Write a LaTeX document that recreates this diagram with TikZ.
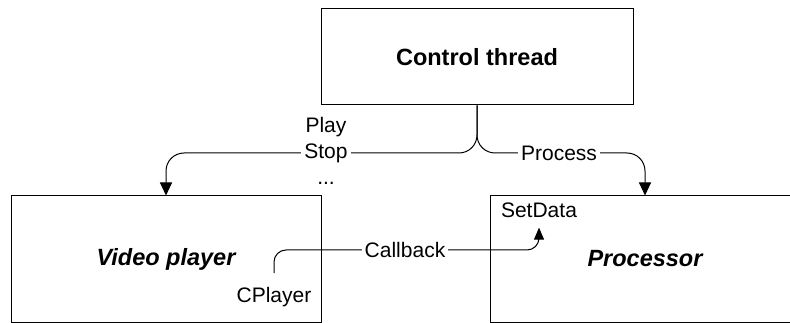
\documentclass[tikz,border=0pt]{standalone}
\usepackage{fontspec}
\setmainfont{Liberation Sans}
\usetikzlibrary{arrows.meta,calc}
\tikzset{
  box/.style={draw=black, line width=1pt, rectangle, minimum width=310pt, minimum height=126pt, inner sep=0pt},
  titlebold/.style={font=\fontsize{23.5}{28}\selectfont\bfseries},
  titleital/.style={font=\fontsize{23.5}{28}\selectfont\bfseries\itshape},
  lbl/.style={font=\fontsize{21}{26}\selectfont, inner sep=3pt},
  lblw/.style={lbl, fill=white},
  conn/.style={draw=black, line width=1pt, rounded corners=18pt, -{Triangle[length=13pt,width=12pt]}},
}
\begin{document}
\begin{tikzpicture}[x=1pt,y=-1pt]
\useasboundingbox (0,0) rectangle (790,323);
\node[box, minimum width=312pt, minimum height=96pt, titlebold] (ctrl) at (477,57) {Control thread};
\node[box, titleital] (vp) at (166,259) {Video player};
\node[box, titleital] (proc) at (645,259) {Processor};
\node[lbl] (cpl) at (274,297) {CPlayer};
\node[lbl] (sd) at (539,210) {SetData};
\coordinate (cbstart) at (274,273);
% connectors
\draw[conn] (ctrl.south) |- (vp.north |- 0,153) -- (vp.north);
\draw[conn] (ctrl.south) |- (proc.north |- 0,153) -- (proc.north);
\draw[conn, rounded corners=12pt, -{Triangle[length=12pt,width=10pt]}, shorten >=7pt] (cbstart) |- (sd.south |- 0,250) -- (sd.south);
% labels
\node[lbl] (play) at (326,127) {Play};
\node[lblw] (stop) at (326,153) {Stop};
\node[lbl] (dots) at (326,183) {...};
\node[lblw] (process) at (559,153) {Process};
\node[lblw] (callback) at (405,250) {Callback};
\end{tikzpicture}
\end{document}
